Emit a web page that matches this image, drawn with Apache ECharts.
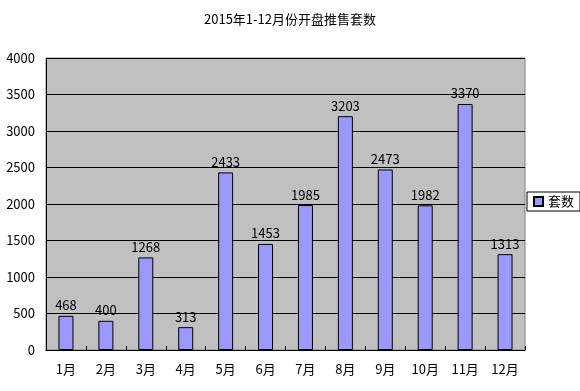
<!DOCTYPE html>
<html><head><meta charset="utf-8">
<script src="https://cdn.jsdelivr.net/npm/echarts@6/dist/echarts.min.js"></script>
<style>html,body{margin:0;padding:0;background:#fff}#c{width:580px;height:391px}</style>
</head><body><div id="c"></div>
<script>
var categories = ['1月','2月','3月','4月','5月','6月','7月','8月','9月','10月','11月','12月'];
var values = [468, 400, 1268, 313, 2433, 1453, 1985, 3203, 2473, 1982, 3370, 1313];
var seriesName = '套数';
var titleText = '2015年1-12月份开盘推售套数';
var font = '"SimSun","Noto Sans CJK SC",sans-serif';
var chart = echarts.init(document.getElementById('c'));
chart.setOption({
  animation: false,
  backgroundColor: '#fff',
  title: {text: titleText, left: 'center', top: 8, textStyle: {fontSize: 13, fontWeight: 'normal', color: '#000', fontFamily: font}},
  legend: {
    data: [{name: seriesName, icon: 'rect'}], right: 0, top: 192, orient: 'vertical',
    backgroundColor: '#fff', borderColor: '#000', borderWidth: 1, padding: [3, 6, 3, 6],
    itemWidth: 9, itemHeight: 9, itemGap: 4,
    textStyle: {fontSize: 13, color: '#000', fontFamily: font}
  },
  grid: {left: 46, top: 58, width: 479, height: 292, show: true, backgroundColor: '#C0C0C0', borderColor: '#808080', borderWidth: 1},
  xAxis: {
    type: 'category', data: categories,
    axisLine: {lineStyle: {color: '#000', width: 1}},
    axisTick: {show: true, inside: true, length: 4, lineStyle: {color: '#000'}},
    axisLabel: {color: '#000', fontSize: 13, margin: 13, fontFamily: font}
  },
  yAxis: {
    type: 'value', min: 0, max: 4000, interval: 500,
    axisLine: {show: true, lineStyle: {color: '#000', width: 1}},
    axisTick: {show: false},
    splitLine: {lineStyle: {color: '#000', width: 1}},
    axisLabel: {color: '#000', fontSize: 13, margin: 11, fontFamily: font, formatter: function (v) { return String(v); }}
  },
  series: [{
    name: seriesName, type: 'bar', data: values, barWidth: 15,
    itemStyle: {color: '#9999FF', borderColor: '#000', borderWidth: 1},
    label: {show: true, position: 'top', distance: 4, color: '#000', fontSize: 13, fontFamily: font}
  }]
});
</script></body></html>
